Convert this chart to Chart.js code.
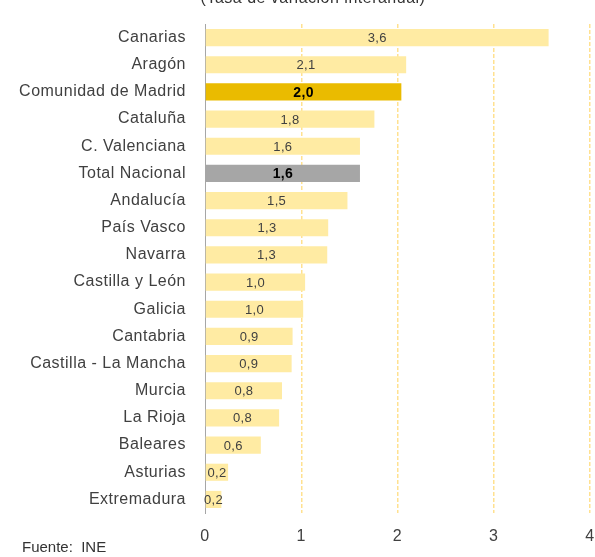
<!DOCTYPE html>
<html>
<head>
<meta charset="utf-8">
<script src="https://cdn.jsdelivr.net/npm/chart.js@4"></script>
<style>
html,body{margin:0;padding:0;background:#fff;}
#wrap{position:relative;width:595px;height:557px;}
</style>
</head>
<body>
<div id="wrap"><canvas id="c" width="595" height="557"></canvas></div>
<script>
const categories = ["Canarias","Aragón","Comunidad de Madrid","Cataluña","C. Valenciana","Total Nacional","Andalucía","País Vasco","Navarra","Castilla y León","Galicia","Cantabria","Castilla - La Mancha","Murcia","La Rioja","Baleares","Asturias","Extremadura"];
const values = [3.57,2.09,2.04,1.76,1.61,1.61,1.48,1.28,1.27,1.04,1.02,0.91,0.90,0.80,0.77,0.58,0.24,0.17];
const highlighted = ["Comunidad de Madrid","Total Nacional"];
const xTicks = [0,1,2,3,4];
const titleText = "(Tasa de variación interanual)";
const sourceText = "Fuente:  INE";

const colors = categories.map(c => c === "Comunidad de Madrid" ? "#EABB00" : (c === "Total Nacional" ? "#A6A6A6" : "#FFEBA3"));
const FONT = "'Liberation Sans', Arial, sans-serif";

const extras = {
  id: 'extras',
  beforeDraw(chart) {
    chart.ctx.letterSpacing = '0.5px';
  },
  afterDatasetsDraw(chart) {
    const ctx = chart.ctx;
    const meta = chart.getDatasetMeta(0);
    ctx.save();
    ctx.letterSpacing = '0.3px';
    ctx.textAlign = 'center';
    ctx.textBaseline = 'middle';
    meta.data.forEach((bar, i) => {
      const isHi = highlighted.includes(categories[i]);
      ctx.font = (isHi ? 'bold 14px ' : '13px ') + FONT;
      ctx.fillStyle = isHi ? '#000' : '#404040';
      const x = (bar.x + bar.base) / 2;
      ctx.fillText(values[i].toFixed(1).replace('.', ','), x, bar.y + 1);
    });
    ctx.restore();
  },
  afterDraw(chart) {
    const ctx = chart.ctx;
    ctx.save();
    ctx.letterSpacing = '0.5px';
    ctx.fillStyle = '#333';
    ctx.font = '16px ' + FONT;
    ctx.textAlign = 'center';
    ctx.textBaseline = 'alphabetic';
    ctx.fillText(titleText, 313, 3);
    ctx.textAlign = 'left';
    ctx.textBaseline = 'middle';
    ctx.letterSpacing = '0px';
    ctx.font = '15px ' + FONT;
    ctx.fillText(sourceText, 22, 548);
    ctx.restore();
  }
};

new Chart(document.getElementById('c'), {
  type: 'bar',
  data: {
    labels: categories,
    datasets: [{
      data: values,
      backgroundColor: colors,
      borderWidth: 0,
      barPercentage: 0.63,
      categoryPercentage: 1.0
    }]
  },
  options: {
    indexAxis: 'y',
    responsive: false,
    animation: false,
    devicePixelRatio: 1,
    layout: { padding: { top: 24, right: 5, left: 0, bottom: 0 } },
    plugins: { legend: { display: false }, tooltip: { enabled: false } },
    scales: {
      x: {
        min: 0, max: 4,
        afterBuildTicks(scale) { scale.ticks = xTicks.map(v => ({ value: v })); },
        afterFit(scale) { scale.height = 44; scale.paddingRight = 0; scale.paddingLeft = 0; },
        grid: {
          color: ctx => ctx.tick && ctx.tick.value === 0 ? 'rgba(0,0,0,0)' : '#FFE190',
          lineWidth: 1.5,
          drawTicks: false
        },
        border: { display: false, dash: [4, 2] },
        ticks: {
          padding: 14,
          color: '#404040',
          font: { family: FONT, size: 16 },
          callback: v => String(v)
        }
      },
      y: {
        afterFit(scale) { scale.width = 205; scale.paddingTop = 0; scale.paddingBottom = 0; },
        grid: { display: false, drawTicks: false },
        border: { display: true, color: '#A6A6A6', width: 1 },
        ticks: {
          padding: 19,
          color: '#404040',
          font: { family: FONT, size: 16 },
          autoSkip: false
        }
      }
    }
  },
  plugins: [extras]
});
</script>
</body>
</html>
